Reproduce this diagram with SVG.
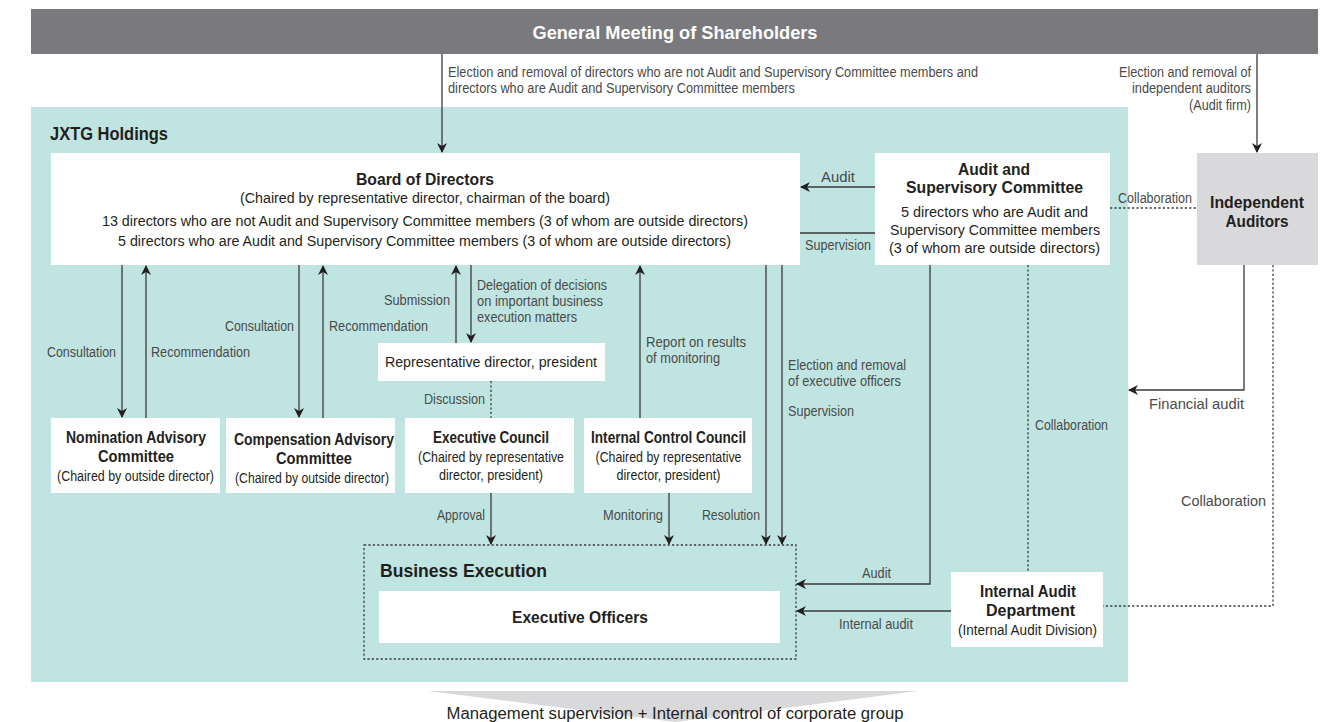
<svg xmlns="http://www.w3.org/2000/svg" width="1333" height="722" viewBox="0 0 1333 722">
<style>
text{font-family:"Liberation Sans",Arial,sans-serif;}
.lbl{font-size:14px;fill:#4a4a4a;}
.t{font-size:16.5px;font-weight:bold;fill:#231f20;text-anchor:middle;}
.s{font-size:14px;fill:#231f20;text-anchor:middle;}
.box{fill:#ffffff;}
.ln{stroke:#3a3a3a;stroke-width:1.3;fill:none;}
.dot{stroke:#3a3a3a;stroke-width:1.3;fill:none;stroke-dasharray:2.2 2.2;}
.r{text-anchor:end;}
</style>
<defs>
<marker id="ah" viewBox="0 0 10 10" refX="9" refY="5" markerWidth="10" markerHeight="10" markerUnits="userSpaceOnUse" orient="auto">
<path d="M0,0 L10,5 L0,10 L3,5 z" fill="#231f20"/>
</marker>
</defs>
<rect width="1333" height="722" fill="#ffffff"/>
<g id="shareholders">
<rect x="31" y="9" width="1287" height="45" fill="#7a7a7e"/>
<text x="675" y="39" textLength="285" lengthAdjust="spacingAndGlyphs" style="font-size:19px;font-weight:bold;fill:#ffffff;text-anchor:middle;">General Meeting of Shareholders</text>
</g>
<g id="jxtg">
<rect x="31" y="107" width="1097" height="575" fill="#c0e4e1"/>
<text x="50" y="140" textLength="118" lengthAdjust="spacingAndGlyphs" style="font-size:18px;font-weight:bold;fill:#231f20;">JXTG Holdings</text>
</g>
<g id="bottom">
<polygon points="428,691 918,691 675,722" fill="#d9d9db"/>
<text x="675" y="719" textLength="457" lengthAdjust="spacingAndGlyphs" style="font-size:16px;fill:#231f20;text-anchor:middle;">Management supervision + Internal control of corporate group</text>
</g>
<g id="connectors">
<line class="ln" x1="442" y1="54" x2="442" y2="152" marker-end="url(#ah)"/>
<line class="ln" x1="1257" y1="54" x2="1257" y2="152" marker-end="url(#ah)"/>
<line class="ln" x1="875" y1="187" x2="801" y2="187" marker-end="url(#ah)"/>
<line class="ln" x1="875" y1="233" x2="756" y2="233" marker-end="url(#ah)"/>
<line class="dot" x1="1110" y1="208" x2="1197" y2="208"/>
<line class="ln" x1="122" y1="265" x2="122" y2="417" marker-end="url(#ah)"/>
<line class="ln" x1="146" y1="418" x2="146" y2="266" marker-end="url(#ah)"/>
<line class="ln" x1="299" y1="265" x2="299" y2="417" marker-end="url(#ah)"/>
<line class="ln" x1="323" y1="418" x2="323" y2="266" marker-end="url(#ah)"/>
<line class="ln" x1="456" y1="343" x2="456" y2="266" marker-end="url(#ah)"/>
<line class="ln" x1="471" y1="265" x2="471" y2="342" marker-end="url(#ah)"/>
<line class="dot" x1="491" y1="381" x2="491" y2="418"/>
<line class="ln" x1="640" y1="418" x2="640" y2="266" marker-end="url(#ah)"/>
<line class="ln" x1="491" y1="493" x2="491" y2="544" marker-end="url(#ah)"/>
<line class="ln" x1="669" y1="493" x2="669" y2="544" marker-end="url(#ah)"/>
<line class="ln" x1="766" y1="265" x2="766" y2="544" marker-end="url(#ah)"/>
<line class="ln" x1="782" y1="265" x2="782" y2="544" marker-end="url(#ah)"/>
<polyline class="ln" points="930,265 930,584 797,584" marker-end="url(#ah)"/>
<line class="ln" x1="951" y1="611" x2="797" y2="611" marker-end="url(#ah)"/>
<line class="dot" x1="1028" y1="265" x2="1028" y2="572"/>
<polyline class="ln" points="1244,265 1244,390 1129,390" marker-end="url(#ah)"/>
<polyline class="dot" points="1273,265 1273,606 1103,606"/>
</g>
<g id="labels">
<text class="lbl" x="448" y="77" textLength="530" lengthAdjust="spacingAndGlyphs">Election and removal of directors who are not Audit and Supervisory Committee members and</text>
<text class="lbl" x="448" y="93" textLength="347" lengthAdjust="spacingAndGlyphs">directors who are Audit and Supervisory Committee members</text>
<text class="lbl r" x="1251" y="77" textLength="132" lengthAdjust="spacingAndGlyphs">Election and removal of</text>
<text class="lbl r" x="1251" y="93" textLength="119" lengthAdjust="spacingAndGlyphs">independent auditors</text>
<text class="lbl r" x="1251" y="110" textLength="62" lengthAdjust="spacingAndGlyphs">(Audit firm)</text>
<text class="lbl" x="821" y="182" textLength="34" lengthAdjust="spacingAndGlyphs" style="font-size:15px">Audit</text>
<text class="lbl" x="805" y="250" textLength="66" lengthAdjust="spacingAndGlyphs">Supervision</text>
<text class="lbl" x="1118" y="203" textLength="74" lengthAdjust="spacingAndGlyphs">Collaboration</text>
<text class="lbl r" x="116" y="357" textLength="69" lengthAdjust="spacingAndGlyphs">Consultation</text>
<text class="lbl" x="151" y="357" textLength="99" lengthAdjust="spacingAndGlyphs">Recommendation</text>
<text class="lbl r" x="294" y="331" textLength="69" lengthAdjust="spacingAndGlyphs">Consultation</text>
<text class="lbl" x="329" y="331" textLength="99" lengthAdjust="spacingAndGlyphs">Recommendation</text>
<text class="lbl r" x="450" y="305" textLength="66" lengthAdjust="spacingAndGlyphs">Submission</text>
<text class="lbl" x="477" y="290" textLength="130" lengthAdjust="spacingAndGlyphs">Delegation of decisions</text>
<text class="lbl" x="477" y="306" textLength="126" lengthAdjust="spacingAndGlyphs">on important business</text>
<text class="lbl" x="477" y="322" textLength="100" lengthAdjust="spacingAndGlyphs">execution matters</text>
<text class="lbl r" x="485" y="404" textLength="61" lengthAdjust="spacingAndGlyphs">Discussion</text>
<text class="lbl" x="646" y="347" textLength="100" lengthAdjust="spacingAndGlyphs">Report on results</text>
<text class="lbl" x="646" y="363" textLength="74" lengthAdjust="spacingAndGlyphs">of monitoring</text>
<text class="lbl" x="788" y="370" textLength="118" lengthAdjust="spacingAndGlyphs">Election and removal</text>
<text class="lbl" x="788" y="386" textLength="113" lengthAdjust="spacingAndGlyphs">of executive officers</text>
<text class="lbl" x="788" y="416" textLength="66" lengthAdjust="spacingAndGlyphs">Supervision</text>
<text class="lbl" x="1035" y="430" textLength="73" lengthAdjust="spacingAndGlyphs">Collaboration</text>
<text class="lbl" x="1149" y="409" textLength="95" lengthAdjust="spacingAndGlyphs">Financial audit</text>
<text class="lbl r" x="1266" y="506" textLength="85" lengthAdjust="spacingAndGlyphs">Collaboration</text>
<text class="lbl r" x="485" y="520" textLength="48" lengthAdjust="spacingAndGlyphs">Approval</text>
<text class="lbl r" x="663" y="520" textLength="60" lengthAdjust="spacingAndGlyphs">Monitoring</text>
<text class="lbl r" x="760" y="520" textLength="58" lengthAdjust="spacingAndGlyphs">Resolution</text>
<text class="lbl" x="862" y="578" textLength="29" lengthAdjust="spacingAndGlyphs">Audit</text>
<text class="lbl" x="839" y="629" textLength="74" lengthAdjust="spacingAndGlyphs">Internal audit</text>
</g>
<g id="board">
<rect class="box" x="51" y="153" width="749" height="112"/>
<text class="t" x="425" y="185" textLength="138" lengthAdjust="spacingAndGlyphs">Board of Directors</text>
<text class="s" x="425" y="203" textLength="370" lengthAdjust="spacingAndGlyphs">(Chaired by representative director, chairman of the board)</text>
<text class="s" x="425" y="226" textLength="646" lengthAdjust="spacingAndGlyphs">13 directors who are not Audit and Supervisory Committee members (3 of whom are outside directors)</text>
<text class="s" x="424.5" y="246" textLength="613" lengthAdjust="spacingAndGlyphs">5 directors who are Audit and Supervisory Committee members (3 of whom are outside directors)</text>
</g>
<g id="audit-committee">
<rect class="box" x="875" y="153" width="235" height="112"/>
<text class="t" x="994" y="175" textLength="72" lengthAdjust="spacingAndGlyphs">Audit and</text>
<text class="t" x="994.5" y="193" textLength="177" lengthAdjust="spacingAndGlyphs">Supervisory Committee</text>
<text class="s" x="994.5" y="217" textLength="187" lengthAdjust="spacingAndGlyphs">5 directors who are Audit and</text>
<text class="s" x="995" y="235" textLength="210" lengthAdjust="spacingAndGlyphs">Supervisory Committee members</text>
<text class="s" x="994.5" y="253" textLength="211" lengthAdjust="spacingAndGlyphs">(3 of whom are outside directors)</text>
</g>
<g id="independent-auditors">
<rect x="1197" y="153" width="121" height="112" fill="#d9d9db"/>
<text class="t" x="1257" y="208" textLength="94" lengthAdjust="spacingAndGlyphs">Independent</text>
<text class="t" x="1257" y="227" textLength="63" lengthAdjust="spacingAndGlyphs">Auditors</text>
</g>
<g id="rep-director">
<rect class="box" x="378" y="343" width="227" height="38"/>
<text x="491" y="367" textLength="212" lengthAdjust="spacingAndGlyphs" style="font-size:15px;fill:#231f20;text-anchor:middle;">Representative director, president</text>
</g>
<g id="nomination">
<rect class="box" x="51" y="418" width="169" height="75"/>
<text class="t" x="136" y="443" textLength="140" lengthAdjust="spacingAndGlyphs">Nomination Advisory</text>
<text class="t" x="136" y="462" textLength="76" lengthAdjust="spacingAndGlyphs">Committee</text>
<text class="s" x="135.5" y="481" textLength="157" lengthAdjust="spacingAndGlyphs">(Chaired by outside director)</text>
</g>
<g id="compensation">
<rect class="box" x="226" y="418" width="169" height="75"/>
<text class="t" x="314" y="445" textLength="160" lengthAdjust="spacingAndGlyphs">Compensation Advisory</text>
<text class="t" x="314" y="464" textLength="76" lengthAdjust="spacingAndGlyphs">Committee</text>
<text class="s" x="312" y="483" textLength="154" lengthAdjust="spacingAndGlyphs">(Chaired by outside director)</text>
</g>
<g id="executive-council">
<rect class="box" x="405" y="418" width="169" height="75"/>
<text class="t" x="491" y="443" textLength="116" lengthAdjust="spacingAndGlyphs">Executive Council</text>
<text class="s" x="491" y="462" textLength="146" lengthAdjust="spacingAndGlyphs">(Chaired by representative</text>
<text class="s" x="491" y="480" textLength="104" lengthAdjust="spacingAndGlyphs">director, president)</text>
</g>
<g id="internal-control">
<rect class="box" x="584" y="418" width="168" height="75"/>
<text class="t" x="668.5" y="443" textLength="155" lengthAdjust="spacingAndGlyphs">Internal Control Council</text>
<text class="s" x="668.5" y="462" textLength="146" lengthAdjust="spacingAndGlyphs">(Chaired by representative</text>
<text class="s" x="668.5" y="480" textLength="104" lengthAdjust="spacingAndGlyphs">director, president)</text>
</g>
<g id="business-execution">
<rect x="364" y="545" width="432" height="114" fill="none" stroke="#3a3a3a" stroke-width="1.3" stroke-dasharray="2.2 2.2"/>
<text x="380" y="577" textLength="167" lengthAdjust="spacingAndGlyphs" style="font-size:18px;font-weight:bold;fill:#231f20;">Business Execution</text>
<rect class="box" x="379" y="591" width="401" height="52"/>
<text x="580" y="623" textLength="136" lengthAdjust="spacingAndGlyphs" style="font-size:17px;font-weight:bold;fill:#231f20;text-anchor:middle;">Executive Officers</text>
</g>
<g id="internal-audit">
<rect class="box" x="951" y="572" width="152" height="75"/>
<text class="t" x="1028" y="597" textLength="96" lengthAdjust="spacingAndGlyphs">Internal Audit</text>
<text class="t" x="1030.5" y="616" textLength="89" lengthAdjust="spacingAndGlyphs">Department</text>
<text class="s" x="1027.5" y="635" textLength="139" lengthAdjust="spacingAndGlyphs">(Internal Audit Division)</text>
</g>
</svg>
